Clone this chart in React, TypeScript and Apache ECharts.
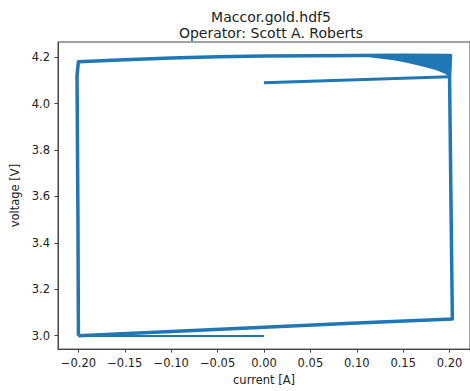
import React, { useEffect, useRef } from "react";
import * as echarts from "echarts";

const titleLines = ["Maccor.gold.hdf5", "Operator: Scott A. Roberts"];
const xName = "current [A]";
const yName = "voltage [V]";
const xTicks = [-0.2, -0.15, -0.1, -0.05, 0.0, 0.05, 0.1, 0.15, 0.2];
const yTicks = [3.0, 3.2, 3.4, 3.6, 3.8, 4.0, 4.2];

// rest segment at low voltage
const restCurrent = [0.0, -0.2];
const restVoltage = [2.998, 2.998];
// start segment
const startCurrent = [0.0, 0.2];
const startVoltage = [4.089, 4.115];
// main cycling loop
const loopCurrent = [-0.2, -0.1, 0.0, 0.1, 0.203, 0.202, 0.2, 0.201, 0.15, 0.1, 0.05, 0.0, -0.05, -0.1, -0.15, -0.2, -0.2015, -0.2005, -0.2];
const loopVoltage = [3.0, 3.018, 3.036, 3.054, 3.072, 3.4, 4.115, 4.207, 4.208, 4.207, 4.206, 4.205, 4.201, 4.196, 4.189, 4.18, 4.12, 3.5, 3.0];
// constant-voltage fan region
const wedgeCurrent = [0.201, 0.1, 0.12, 0.14, 0.155, 0.17, 0.185, 0.195, 0.2];
const wedgeVoltage = [4.207, 4.207, 4.196, 4.186, 4.174, 4.161, 4.144, 4.128, 4.115];

const BLUE = "#1f77b4";
const FONT = "DejaVu Sans";

const pairs = (xs: number[], ys: number[]) => xs.map((x, i) => [x, ys[i]]);
const fmt = (v: number, d: number) => {
  const s = Math.abs(v).toFixed(d);
  return v < -1e-9 ? "\u2212" + s : s;
};

export default function App() {
  const ref = useRef<HTMLDivElement>(null);
  useEffect(() => {
    document.body.style.margin = "0";
    const chart = echarts.init(ref.current!, null, { renderer: "svg" });
    const wedgeData = pairs(wedgeCurrent, wedgeVoltage);
    chart.setOption({
      animation: false,
      backgroundColor: "#ffffff",
      title: {
        text: titleLines.join("\n"),
        left: 266,
        top: 4,
        textAlign: "center",
        textStyle: { fontFamily: FONT, fontSize: 14, fontWeight: "normal", color: "#222", lineHeight: 16 },
      },
      grid: {
        left: 58,
        top: 42,
        width: 416,
        height: 311,
        show: true,
        borderColor: "#444",
        borderWidth: 1,
        backgroundColor: "transparent",
      },
      xAxis: {
        type: "value",
        min: -0.222,
        max: 0.222,
        name: xName,
        nameLocation: "middle",
        nameGap: 24,
        nameTextStyle: { fontFamily: FONT, fontSize: 11.5, color: "#222" },
        axisLine: { show: true, onZero: false, lineStyle: { color: "#444", width: 1 } },
        axisTick: { show: true, customValues: xTicks, length: 3.5, lineStyle: { color: "#444" } },
        axisLabel: {
          customValues: xTicks,
          formatter: (v: number) => fmt(v, 2),
          margin: 8,
          fontFamily: FONT,
          fontSize: 11.5,
          color: "#222",
        },
        splitLine: { show: false },
      },
      yAxis: {
        type: "value",
        min: 2.942,
        max: 4.265,
        name: yName,
        nameLocation: "middle",
        nameGap: 34,
        nameTextStyle: { fontFamily: FONT, fontSize: 11.5, color: "#222" },
        axisLine: { show: true, onZero: false, lineStyle: { color: "#444", width: 1 } },
        axisTick: { show: true, customValues: yTicks, length: 3.5, lineStyle: { color: "#444" } },
        axisLabel: {
          customValues: yTicks,
          formatter: (v: number) => fmt(v, 1),
          margin: 8,
          fontFamily: FONT,
          fontSize: 11.5,
          color: "#222",
        },
        splitLine: { show: false },
      },
      series: [
        {
          type: "custom",
          coordinateSystem: "cartesian2d",
          data: [wedgeData[0]],
          renderItem: (params: any, api: any) => {
            const pts = wedgeData.map((p) => api.coord(p));
            return { type: "polygon", shape: { points: pts }, style: { fill: BLUE } };
          },
          silent: true,
        },
        {
          type: "line",
          data: pairs(restCurrent, restVoltage),
          showSymbol: false,
          symbol: "none",
          lineStyle: { color: BLUE, width: 2 },
        },
        {
          type: "line",
          data: pairs(startCurrent, startVoltage),
          showSymbol: false,
          symbol: "none",
          lineStyle: { color: BLUE, width: 3 },
        },
        {
          type: "line",
          data: pairs(loopCurrent, loopVoltage),
          showSymbol: false,
          symbol: "none",
          lineStyle: { color: BLUE, width: 3.5, join: "round" },
        },
      ],
    });
    return () => chart.dispose();
  }, []);
  return <div ref={ref} style={{ width: 470, height: 391 }} />;
}
